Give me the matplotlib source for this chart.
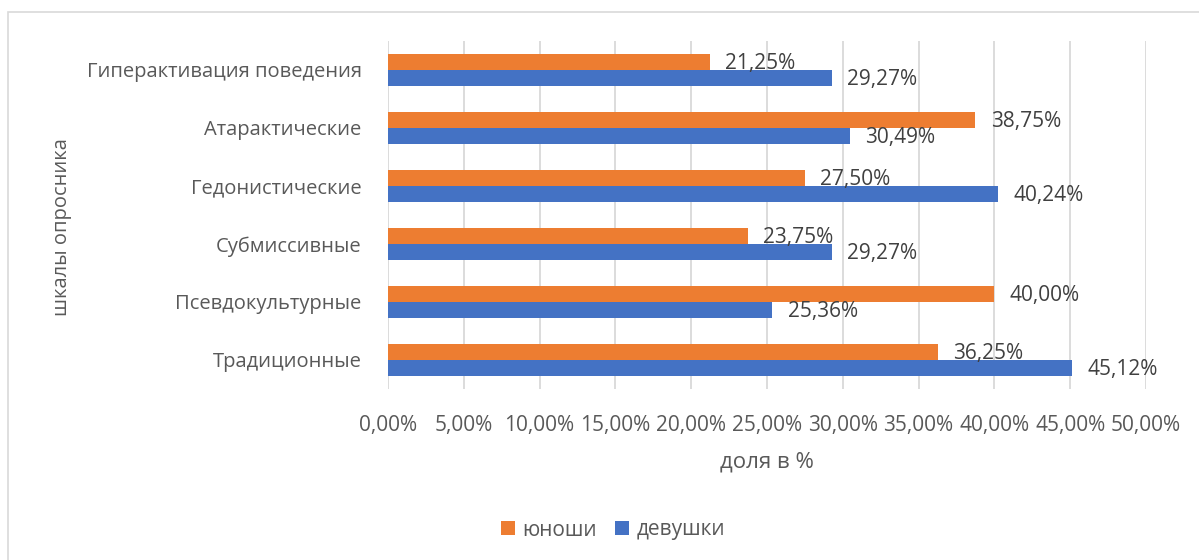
import matplotlib
matplotlib.use("Agg")
import matplotlib.pyplot as plt
from matplotlib.patches import Rectangle
import numpy as np

categories = ["Традиционные", "Псевдокультурные", "Субмиссивные", "Гедонистические",
              "Атарактические", "Гиперактивация поведения"]
boys = [36.25, 40.00, 23.75, 27.50, 38.75, 21.25]
girls = [45.12, 25.36, 29.27, 40.24, 30.49, 29.27]
xticks = [0, 5, 10, 15, 20, 25, 30, 35, 40, 45, 50]

plt.rcParams['font.family'] = ['Open Sans', 'DejaVu Sans']
txt = '#595959'
fig = plt.figure(figsize=(11.99, 5.6), dpi=100)
fig.patches.append(Rectangle((8/1199, -0.01), 1.1, 1 - 12/560 + 0.01, transform=fig.transFigure,
                             fill=False, edgecolor='#D9D9D9', linewidth=1.2))
ax = fig.add_axes([388/1199, 1 - 389/560, (1146-388)/1199, 348/560])

y = np.arange(len(categories))
h = 0.276
ax.barh(y + h/2, boys, height=h, color='#ED7D31', label='юноши', zorder=3)
ax.barh(y - h/2, girls, height=h, color='#4472C4', label='девушки', zorder=3)

def fmt(v):
    return f"{v:.2f}".replace('.', ',') + '%'

for yi, v in zip(y, boys):
    ax.text(v + 1.0, yi + h/2 - 0.02, fmt(v), va='center', ha='left', fontsize=15, color='#404040', zorder=4)
for yi, v in zip(y, girls):
    ax.text(v + 1.0, yi - h/2 - 0.02, fmt(v), va='center', ha='left', fontsize=15, color='#404040', zorder=4)

ax.set_xlim(0, 50)
ax.set_ylim(-0.5, len(categories) - 0.5)
ax.set_xticks(xticks)
ax.set_xticklabels([f"{t:.2f}".replace('.', ',') + '%' for t in xticks], fontsize=15, color=txt)
ax.set_yticks(y)
ax.set_yticklabels(categories, fontsize=14.5, color=txt)
ax.tick_params(axis='y', length=0, pad=19)
ax.tick_params(axis='x', length=0, pad=19)
ax.grid(axis='x', color='#D9D9D9', linewidth=1.3, zorder=0)
for s in ax.spines.values():
    s.set_visible(False)

fig.text(767/1199, 1 - 462/560, 'доля в %', ha='center', va='center', fontsize=16, color=txt)
fig.text(62/1199, 1 - 227/560, 'шкалы опросника', ha='center', va='center', rotation=90,
         fontsize=14.5, color=txt)

leg = fig.legend(loc='center', bbox_to_anchor=(613/1199, 1 - 530/560), ncol=2, frameon=False,
                 fontsize=15, handlelength=0.65, handleheight=0.65, columnspacing=0.9, handletextpad=0.35)
for t in leg.get_texts():
    t.set_color(txt)

fig.savefig('out.png', dpi=100)
